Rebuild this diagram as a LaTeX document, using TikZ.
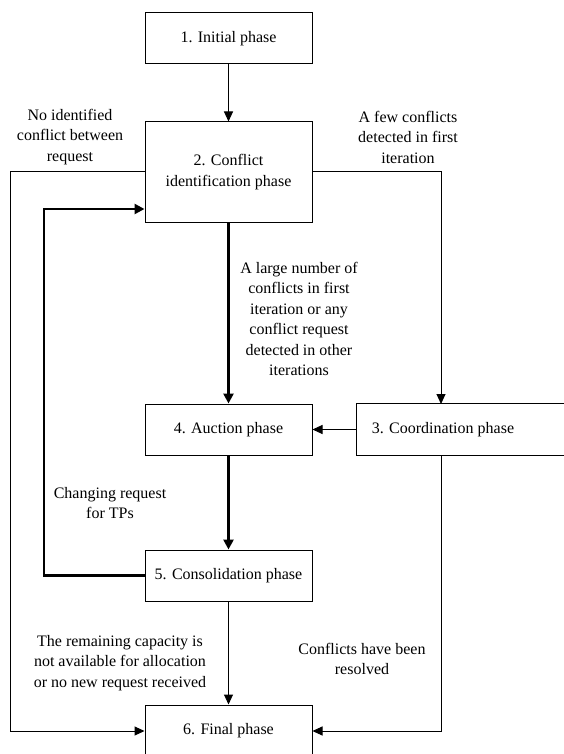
\documentclass[tikz,border=0pt]{standalone}
\usepackage{fontspec}
\setmainfont{Liberation Serif}
\usetikzlibrary{arrows.meta}
\begin{document}
\begin{tikzpicture}[x=1pt,y=-1pt,
  phase/.style={draw,line width=1pt,minimum width=167pt,align=center,inner sep=0pt,font=\fontsize{16}{20.5}\selectfont},
  lbl/.style={align=center,inner sep=0pt,font=\fontsize{16}{20.5}\selectfont},
  thin/.style={line width=1pt,-{Triangle[length=10pt,width=9pt]}},
  thick/.style={line width=2.5pt,-{Triangle[length=10pt,width=10pt]}}]
\useasboundingbox (0,0) rectangle (564,754);
\clip (0,0) rectangle (564,754);
\node[phase,minimum height=51pt] (b1) at (228.5,38.5) {1. Initial phase};
\node[phase,minimum height=100pt] (b2) at (228.5,172) {2. Conflict\\identification phase};
\node[phase,minimum height=51pt] (b4) at (228.5,429.5) {4. Auction phase};
\node[phase,draw=none,minimum width=172pt,minimum height=51pt] (b3) at (443,429.5) {3. Coordination phase};
\draw[line width=1pt] (b3.north west) rectangle ([xshift=60pt]b3.south east);
\node[phase,minimum height=51pt] (b5) at (228.5,575.5) {5. Consolidation phase};
\node[phase,minimum height=52pt] (b6) at (228.5,731) {6. Final phase};
\coordinate (b3in) at (441,404);
\coordinate (b3out) at (441,455);
% connectors
\draw[thin] (b1) -- (b2);
\draw[thick] (b2) -- (b4);
\draw[thick] (b4) -- (b5);
\draw[thin] (b5) -- (b6);
\draw[thin] (b3.west) -- (b4.east);
\draw[thin] (b2.east) -| (b3in);
\draw[thin] (b3out) |- (b6.east);
\draw[thin] (b2.west) -| (10,731) -- (b6.west);
\draw[thick] (b5.west) -| (44,209) -- (b2.west |- 0,209);
% labels
\node[lbl] at (70,137) {No identified\\conflict between\\request};
\node[lbl] at (408,137) {A few conflicts\\detected in first\\iteration};
\node[lbl] at (299,319) {A large number of\\conflicts in first\\iteration or any\\conflict request\\detected in other\\iterations};
\node[lbl] at (110,503) {Changing request\\for TPs};
\node[lbl] at (120,663) {The remaining capacity is\\not available for allocation\\or no new request received};
\node[lbl] at (362,659) {Conflicts have been\\resolved};
\end{tikzpicture}
\end{document}
